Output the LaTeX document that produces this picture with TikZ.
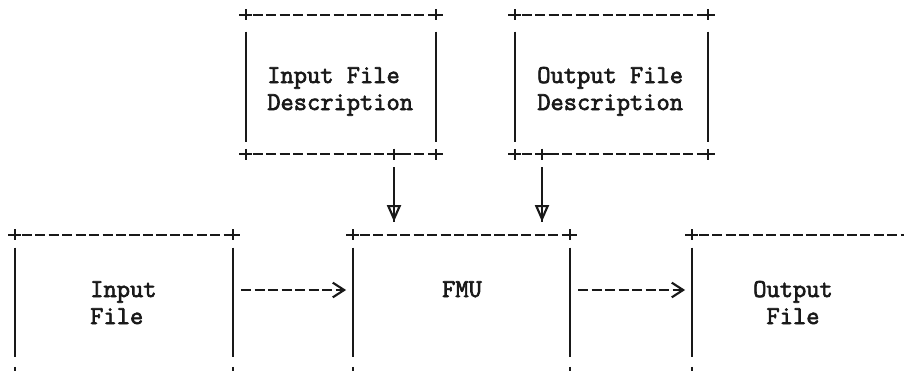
\documentclass[tikz,border=0pt]{standalone}
\usepackage{fontspec}
\usetikzlibrary{calc,fit,arrows.meta}
\newfontfamily\tw{Latin Modern Mono}[FakeBold=2.6]

\tikzset{
  ink/.style={draw=black!90, line width=1.8pt},
  hrule/.style={ink, dash pattern=on 7.6pt off 2.5pt},
  vrule/.style={ink, line width=1.8pt},
  plusmark/.pic={\draw[ink, line cap=butt] (-6.5,0) -- (6.5,0) (0,-5.5) -- (0,5.5);},
  label/.style={font=\tw\fontsize{19.3}{20}\selectfont, text=black!90, inner sep=0pt},
  frame/.style={inner sep=0pt},
  flowarrow/.style={hrule, -{Straight Barb[length=8.5pt,width=11pt,line width=1.6pt]},
    shorten <=6pt, shorten >=5pt},
  feedstem/.style={vrule, shorten <=9.75pt, shorten >=9.75pt},
  feedhead/.style={vrule, -{Triangle[open,length=12.5pt,width=10.5pt,line width=1.6pt]},
    shorten <=9.75pt, shorten >=9.75pt},
}

% dashed top and bottom edges, solid sides, a plus at each corner
\newcommand\typedbox[3]{%
  \draw[hrule] ($(#1.north west)+(7,0)$) -- ($(#1.north east)+(-6,0)$);
  \draw[hrule] ($(#1.south west)+(7,0)$) -- ($(#1.south east)+(-6,0)$);
  \draw[vrule] ($(#1.north west)+(0,#2)$) -- ($(#1.south west)+(0,-#3)$);
  \draw[vrule] ($(#1.north east)+(0,#2)$) -- ($(#1.south east)+(0,-#3)$);
  \foreach \c in {north west,north east,south west,south east}
    \pic at (#1.\c) {plusmark};
}

\begin{document}
\begin{tikzpicture}[x=0.75pt,y=-0.75pt]
  \useasboundingbox (0,0) rectangle (904,371);
  \clip (0,0) rectangle (904,371);
  \fill[white] (0,0) rectangle (904,371);

  % box outlines
  \node[frame, fit={(246,15) (436,154)}] (ifd) {};
  \node[frame, fit={(515,15) (708,154)}] (ofd) {};
  \node[frame, fit={(15,235) (233,372)}] (inf) {};
  \node[frame, fit={(353,235) (570,372)}] (fmu) {};
  \node[frame, fit={(692,235) (1000,372)}] (outf) {};

  \typedbox{ifd}{17}{12}
  \typedbox{ofd}{17}{12}
  \typedbox{inf}{13}{15}
  \typedbox{fmu}{13}{15}
  \typedbox{outf}{13}{15}

  % taps on the lower edges of the description boxes
  \coordinate (tapA) at (394,154);
  \coordinate (tapB) at (542,154);
  \pic at (tapA) {plusmark};
  \pic at (tapB) {plusmark};
  \coordinate (flowrow) at (0,290);

  % texts
  \node[label, anchor=base west] (ifd1) at (267,83) {Input File};
  \node[label, anchor=base west] (ifd2) at (267,110) {Description};
  \node[label, anchor=base west] (ofd1) at (537,83) {Output File};
  \node[label, anchor=base west] (ofd2) at (537,110) {Description};
  \node[label, anchor=base west] (inf1) at (90,297) {Input};
  \node[label, anchor=base west] (inf2) at (90,324) {File};
  \node[label, anchor=base] (fmu1) at (462,297) {FMU};
  \node[label, anchor=base] (outf1) at (793,297) {Output};
  \node[label, anchor=base] (outf2) at (793,324) {File};

  % connectors
  \draw[flowarrow] (inf.east |- flowrow) -- (fmu.west |- flowrow);
  \draw[flowarrow] (fmu.east |- flowrow) -- (outf.west |- flowrow);
  \draw[feedstem] (tapA) -- (tapA |- fmu.north);
  \draw[feedhead] (tapA) -- (tapA |- fmu.north);
  \draw[feedstem] (tapB) -- (tapB |- fmu.north);
  \draw[feedhead] (tapB) -- (tapB |- fmu.north);
\end{tikzpicture}
\end{document}
